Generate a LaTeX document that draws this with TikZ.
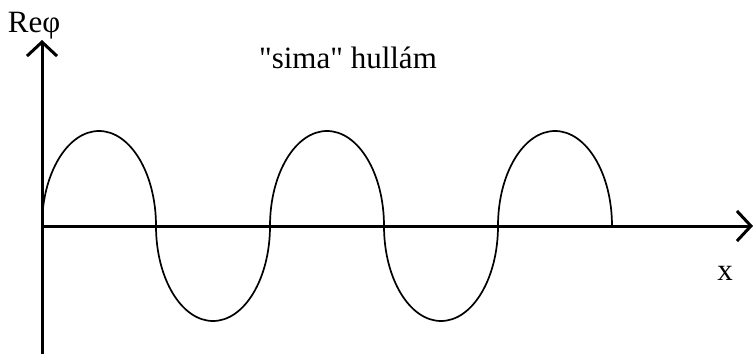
\documentclass[tikz,border=0pt]{standalone}
\usepackage{fontspec}
\newfontfamily\tnr{Liberation Serif}
\usetikzlibrary{arrows.meta, positioning}
\tikzset{
  axis/.style={line width=3pt, -{Straight Barb[length=14pt, width=30pt, line width=3pt]}},
  wave/.style={line width=1.7pt},
  lbl/.style={font=\tnr\fontsize{31}{36}\selectfont, inner sep=0pt, anchor=base}
}

\begin{document}
\begin{tikzpicture}[x=1pt, y=1pt]
  \useasboundingbox (0,0) rectangle (755,354);
  % axes
  \coordinate (o) at (42,128);
  \coordinate (ybot) at (42,0);
  \coordinate (ytop) at (42,314);
  \coordinate (xend) at (753,128);
  \draw[axis] (ybot) -- (ytop);
  \draw[axis] (o) -- (xend);
  % "smooth" wave of half ellipses
  \draw[wave] (o)
    arc[start angle=180, end angle=0, x radius=57, y radius=95]
    arc[start angle=180, end angle=360, x radius=57, y radius=95]
    arc[start angle=180, end angle=0, x radius=57, y radius=95]
    arc[start angle=180, end angle=360, x radius=57, y radius=95]
    arc[start angle=180, end angle=0, x radius=57, y radius=95];
  % labels
  \node[lbl] (ylabel) at (34,321) {Reφ};
  \node[lbl] (title) at (348,285) {"sima" hullám};
  \node[lbl] (xlabel) at (725,74) {x};
\end{tikzpicture}
\end{document}
